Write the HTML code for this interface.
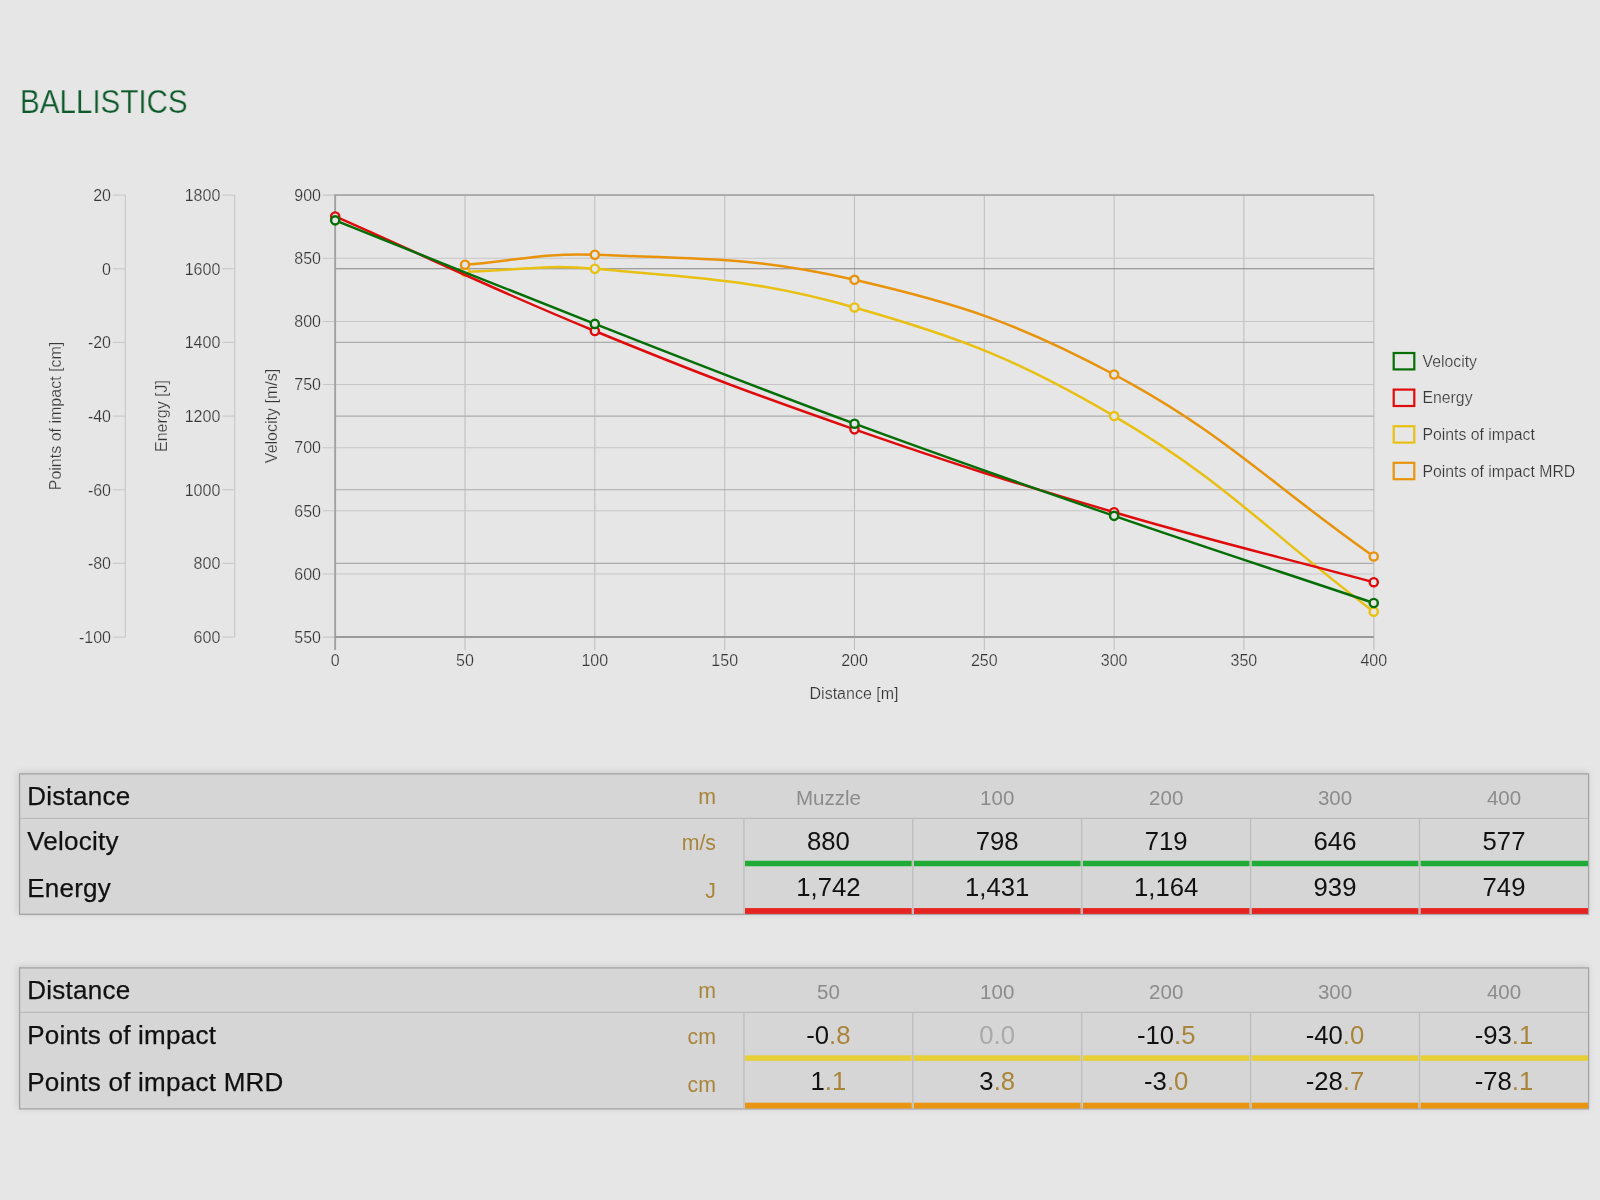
<!DOCTYPE html>
<html lang="en"><head><meta charset="utf-8"><title>Ballistics</title>
<style>
html,body{margin:0;padding:0}
body{width:1600px;height:1200px;background:#e6e6e6;position:relative;overflow:hidden;font-family:"Liberation Sans",Arial,sans-serif}
h1{position:absolute;left:19.5px;top:80.5px;will-change:transform;-webkit-text-stroke:.25px #e6e6e6;margin:0;font-weight:400;font-size:34px;line-height:40px;color:#0f5a2c;transform:scaleX(.87);transform-origin:0 0;white-space:nowrap}
svg.chart{position:absolute;left:0;top:0;will-change:transform}
svg.tbl{position:absolute;left:0;will-change:transform}

</style></head>
<body>
<svg width="0" height="0" style="position:absolute"><defs><filter id="sh" x="-2%" y="-15%" width="104%" height="130%"><feDropShadow dx="-1.2" dy="-1.2" stdDeviation="3" flood-color="#000" flood-opacity="0.12"/></filter></defs></svg>
<h1>BALLISTICS</h1>
<svg class="chart" width="1600" height="740" viewBox="0 0 1600 740" font-family="Liberation Sans, Arial, sans-serif" font-size="16" fill="#383838" stroke="#e6e6e6" stroke-width="0.2">
<line x1="335.2" y1="195.1" x2="335.2" y2="650.1" stroke="#bfbfbf" stroke-width="1.05"/>
<line x1="465.0" y1="195.1" x2="465.0" y2="650.1" stroke="#bfbfbf" stroke-width="1.05"/>
<line x1="594.8" y1="195.1" x2="594.8" y2="650.1" stroke="#bfbfbf" stroke-width="1.05"/>
<line x1="724.7" y1="195.1" x2="724.7" y2="650.1" stroke="#bfbfbf" stroke-width="1.05"/>
<line x1="854.5" y1="195.1" x2="854.5" y2="650.1" stroke="#bfbfbf" stroke-width="1.05"/>
<line x1="984.3" y1="195.1" x2="984.3" y2="650.1" stroke="#bfbfbf" stroke-width="1.05"/>
<line x1="1114.1" y1="195.1" x2="1114.1" y2="650.1" stroke="#bfbfbf" stroke-width="1.05"/>
<line x1="1243.9" y1="195.1" x2="1243.9" y2="650.1" stroke="#bfbfbf" stroke-width="1.05"/>
<line x1="1373.8" y1="195.1" x2="1373.8" y2="650.1" stroke="#cacaca" stroke-width="1.7"/>
<line x1="322.7" y1="637.1" x2="1373.8" y2="637.1" stroke="#c6c6c6" stroke-width="1.05"/>
<line x1="322.7" y1="574.0" x2="1373.8" y2="574.0" stroke="#c6c6c6" stroke-width="1.05"/>
<line x1="322.7" y1="510.8" x2="1373.8" y2="510.8" stroke="#c6c6c6" stroke-width="1.05"/>
<line x1="322.7" y1="447.7" x2="1373.8" y2="447.7" stroke="#c6c6c6" stroke-width="1.05"/>
<line x1="322.7" y1="384.5" x2="1373.8" y2="384.5" stroke="#c6c6c6" stroke-width="1.05"/>
<line x1="322.7" y1="321.4" x2="1373.8" y2="321.4" stroke="#c6c6c6" stroke-width="1.05"/>
<line x1="322.7" y1="258.2" x2="1373.8" y2="258.2" stroke="#c6c6c6" stroke-width="1.05"/>
<line x1="322.7" y1="195.1" x2="1373.8" y2="195.1" stroke="#c6c6c6" stroke-width="1.05"/>
<line x1="335.2" y1="637.1" x2="1373.8" y2="637.1" stroke="#ababab" stroke-width="1.1"/>
<line x1="335.2" y1="563.4" x2="1373.8" y2="563.4" stroke="#ababab" stroke-width="1.1"/>
<line x1="335.2" y1="489.8" x2="1373.8" y2="489.8" stroke="#ababab" stroke-width="1.1"/>
<line x1="335.2" y1="416.1" x2="1373.8" y2="416.1" stroke="#ababab" stroke-width="1.1"/>
<line x1="335.2" y1="342.4" x2="1373.8" y2="342.4" stroke="#ababab" stroke-width="1.1"/>
<line x1="335.2" y1="268.8" x2="1373.8" y2="268.8" stroke="#858585" stroke-width="1.1"/>
<line x1="335.2" y1="195.1" x2="1373.8" y2="195.1" stroke="#ababab" stroke-width="1.1"/>
<line x1="335.2" y1="195.1" x2="1373.8" y2="195.1" stroke="#a8a8a8" stroke-width="1.5"/>
<line x1="335.2" y1="194.2" x2="335.2" y2="650.1" stroke="#a0a0a0" stroke-width="1.8"/>
<line x1="334.2" y1="637.1" x2="1373.8" y2="637.1" stroke="#9a9a9a" stroke-width="2"/>
<line x1="125.4" y1="195.1" x2="125.4" y2="637.1" stroke="#cacaca" stroke-width="1.2"/>
<line x1="112.8" y1="637.1" x2="125.4" y2="637.1" stroke="#cacaca" stroke-width="1.2"/>
<text x="111.0" y="642.8" text-anchor="end">-100</text>
<line x1="112.8" y1="563.4" x2="125.4" y2="563.4" stroke="#cacaca" stroke-width="1.2"/>
<text x="111.0" y="569.1" text-anchor="end">-80</text>
<line x1="112.8" y1="489.8" x2="125.4" y2="489.8" stroke="#cacaca" stroke-width="1.2"/>
<text x="111.0" y="495.5" text-anchor="end">-60</text>
<line x1="112.8" y1="416.1" x2="125.4" y2="416.1" stroke="#cacaca" stroke-width="1.2"/>
<text x="111.0" y="421.8" text-anchor="end">-40</text>
<line x1="112.8" y1="342.4" x2="125.4" y2="342.4" stroke="#cacaca" stroke-width="1.2"/>
<text x="111.0" y="348.1" text-anchor="end">-20</text>
<line x1="112.8" y1="268.8" x2="125.4" y2="268.8" stroke="#cacaca" stroke-width="1.2"/>
<text x="111.0" y="274.5" text-anchor="end">0</text>
<line x1="112.8" y1="195.1" x2="125.4" y2="195.1" stroke="#cacaca" stroke-width="1.2"/>
<text x="111.0" y="200.8" text-anchor="end">20</text>
<line x1="234.7" y1="195.1" x2="234.7" y2="637.1" stroke="#cacaca" stroke-width="1.2"/>
<line x1="222.1" y1="637.1" x2="234.7" y2="637.1" stroke="#cacaca" stroke-width="1.2"/>
<text x="220.3" y="642.8" text-anchor="end">600</text>
<line x1="222.1" y1="563.4" x2="234.7" y2="563.4" stroke="#cacaca" stroke-width="1.2"/>
<text x="220.3" y="569.1" text-anchor="end">800</text>
<line x1="222.1" y1="489.8" x2="234.7" y2="489.8" stroke="#cacaca" stroke-width="1.2"/>
<text x="220.3" y="495.5" text-anchor="end">1000</text>
<line x1="222.1" y1="416.1" x2="234.7" y2="416.1" stroke="#cacaca" stroke-width="1.2"/>
<text x="220.3" y="421.8" text-anchor="end">1200</text>
<line x1="222.1" y1="342.4" x2="234.7" y2="342.4" stroke="#cacaca" stroke-width="1.2"/>
<text x="220.3" y="348.1" text-anchor="end">1400</text>
<line x1="222.1" y1="268.8" x2="234.7" y2="268.8" stroke="#cacaca" stroke-width="1.2"/>
<text x="220.3" y="274.5" text-anchor="end">1600</text>
<line x1="222.1" y1="195.1" x2="234.7" y2="195.1" stroke="#cacaca" stroke-width="1.2"/>
<text x="220.3" y="200.8" text-anchor="end">1800</text>
<text x="321" y="642.8" text-anchor="end">550</text>
<text x="321" y="579.7" text-anchor="end">600</text>
<text x="321" y="516.5" text-anchor="end">650</text>
<text x="321" y="453.4" text-anchor="end">700</text>
<text x="321" y="390.2" text-anchor="end">750</text>
<text x="321" y="327.1" text-anchor="end">800</text>
<text x="321" y="263.9" text-anchor="end">850</text>
<text x="321" y="200.8" text-anchor="end">900</text>
<text x="335.2" y="666" text-anchor="middle">0</text>
<text x="465.0" y="666" text-anchor="middle">50</text>
<text x="594.8" y="666" text-anchor="middle">100</text>
<text x="724.7" y="666" text-anchor="middle">150</text>
<text x="854.5" y="666" text-anchor="middle">200</text>
<text x="984.3" y="666" text-anchor="middle">250</text>
<text x="1114.1" y="666" text-anchor="middle">300</text>
<text x="1243.9" y="666" text-anchor="middle">350</text>
<text x="1373.8" y="666" text-anchor="middle">400</text>
<text x="854" y="698.5" text-anchor="middle">Distance [m]</text>
<text transform="translate(60.8,416) rotate(-90)" text-anchor="middle">Points of impact [cm]</text>
<text transform="translate(167.3,416) rotate(-90)" text-anchor="middle">Energy [J]</text>
<text transform="translate(276.7,416) rotate(-90)" text-anchor="middle">Velocity [m/s]</text>
<path d="M465.02,271.71 C516.95,270.53 543.28,264.04 594.84,268.77 C699.06,278.33 754.24,279.00 854.47,307.44 C961.95,337.94 1017.72,359.63 1114.11,416.10 C1225.43,481.32 1269.89,533.45 1373.75,611.68" fill="none" stroke="#e8c014" stroke-width="2.5" stroke-linejoin="round"/>
<circle cx="465.02" cy="271.71" r="4.1" fill="#e6e6e6" stroke="#e8c014" stroke-width="2.4"/>
<circle cx="594.84" cy="268.77" r="4.1" fill="#e6e6e6" stroke="#e8c014" stroke-width="2.4"/>
<circle cx="854.47" cy="307.44" r="4.1" fill="#e6e6e6" stroke="#e8c014" stroke-width="2.4"/>
<circle cx="1114.11" cy="416.10" r="4.1" fill="#e6e6e6" stroke="#e8c014" stroke-width="2.4"/>
<circle cx="1373.75" cy="611.68" r="4.1" fill="#e6e6e6" stroke="#e8c014" stroke-width="2.4"/>
<path d="M335.20,216.46 C439.06,262.28 489.85,287.97 594.84,331.01 C697.56,373.13 749.66,392.78 854.47,429.36 C957.37,465.27 1009.56,481.46 1114.11,512.24 C1217.27,542.60 1269.89,554.23 1373.75,582.22" fill="none" stroke="#de0c0c" stroke-width="2.5" stroke-linejoin="round"/>
<circle cx="335.20" cy="216.46" r="4.1" fill="#e6e6e6" stroke="#de0c0c" stroke-width="2.4"/>
<circle cx="594.84" cy="331.01" r="4.1" fill="#e6e6e6" stroke="#de0c0c" stroke-width="2.4"/>
<circle cx="854.47" cy="429.36" r="4.1" fill="#e6e6e6" stroke="#de0c0c" stroke-width="2.4"/>
<circle cx="1114.11" cy="512.24" r="4.1" fill="#e6e6e6" stroke="#de0c0c" stroke-width="2.4"/>
<circle cx="1373.75" cy="582.22" r="4.1" fill="#e6e6e6" stroke="#de0c0c" stroke-width="2.4"/>
<path d="M335.20,220.36 C439.06,261.78 490.73,283.15 594.84,323.91 C698.44,364.47 750.13,385.10 854.47,423.68 C957.84,461.89 1009.95,479.89 1114.11,515.87 C1217.66,551.62 1269.89,568.15 1373.75,603.00" fill="none" stroke="#066e06" stroke-width="2.5" stroke-linejoin="round"/>
<circle cx="335.20" cy="220.36" r="4.1" fill="#e6e6e6" stroke="#066e06" stroke-width="2.4"/>
<circle cx="594.84" cy="323.91" r="4.1" fill="#e6e6e6" stroke="#066e06" stroke-width="2.4"/>
<circle cx="854.47" cy="423.68" r="4.1" fill="#e6e6e6" stroke="#066e06" stroke-width="2.4"/>
<circle cx="1114.11" cy="515.87" r="4.1" fill="#e6e6e6" stroke="#066e06" stroke-width="2.4"/>
<circle cx="1373.75" cy="603.00" r="4.1" fill="#e6e6e6" stroke="#066e06" stroke-width="2.4"/>
<path d="M465.02,264.71 C516.95,260.74 542.97,252.76 594.84,254.77 C698.75,258.80 753.62,256.57 854.47,279.82 C961.33,304.45 1017.38,322.95 1114.11,374.48 C1225.09,433.60 1269.89,483.65 1373.75,556.43" fill="none" stroke="#e8930c" stroke-width="2.5" stroke-linejoin="round"/>
<circle cx="465.02" cy="264.71" r="4.1" fill="#e6e6e6" stroke="#e8930c" stroke-width="2.4"/>
<circle cx="594.84" cy="254.77" r="4.1" fill="#e6e6e6" stroke="#e8930c" stroke-width="2.4"/>
<circle cx="854.47" cy="279.82" r="4.1" fill="#e6e6e6" stroke="#e8930c" stroke-width="2.4"/>
<circle cx="1114.11" cy="374.48" r="4.1" fill="#e6e6e6" stroke="#e8930c" stroke-width="2.4"/>
<circle cx="1373.75" cy="556.43" r="4.1" fill="#e6e6e6" stroke="#e8930c" stroke-width="2.4"/>
<rect x="1393.7" y="353.0" width="20.6" height="16.4" fill="none" stroke="#066e06" stroke-width="2.2"/>
<text x="1422.5" y="366.6" font-size="15.8">Velocity</text>
<rect x="1393.7" y="389.6" width="20.6" height="16.4" fill="none" stroke="#de0c0c" stroke-width="2.2"/>
<text x="1422.5" y="403.3" font-size="15.8">Energy</text>
<rect x="1393.7" y="426.2" width="20.6" height="16.4" fill="none" stroke="#e8c014" stroke-width="2.2"/>
<text x="1422.5" y="440.0" font-size="15.8">Points of impact</text>
<rect x="1393.7" y="462.8" width="20.6" height="16.4" fill="none" stroke="#e8930c" stroke-width="2.2"/>
<text x="1422.5" y="476.7" font-size="15.8">Points of impact MRD</text>
</svg>
<svg class="tbl" style="top:765px" width="1600" height="160" viewBox="0 -8 1600 160" font-family="Liberation Sans, Arial, sans-serif">
<rect x="19.55" y="0.90" width="1569.05" height="140.40" fill="#d6d6d6" stroke="#a2a2a2" stroke-width="1.3" filter="url(#sh)"/>
<line x1="20.15" y1="45.40" x2="1588.00" y2="45.40" stroke="#bcbcbc" stroke-width="1.3"/>
<line x1="743.90" y1="45.40" x2="743.90" y2="141.10" stroke="#bcbcbc" stroke-width="1.3"/>
<line x1="912.80" y1="45.40" x2="912.80" y2="141.10" stroke="#bcbcbc" stroke-width="1.3"/>
<line x1="1081.70" y1="45.40" x2="1081.70" y2="141.10" stroke="#bcbcbc" stroke-width="1.3"/>
<line x1="1250.60" y1="45.40" x2="1250.60" y2="141.10" stroke="#bcbcbc" stroke-width="1.3"/>
<line x1="1419.50" y1="45.40" x2="1419.50" y2="141.10" stroke="#bcbcbc" stroke-width="1.3"/>
<rect x="745.00" y="87.75" width="166.70" height="5.50" fill="#1fab35"/>
<rect x="913.90" y="87.75" width="166.70" height="5.50" fill="#1fab35"/>
<rect x="1082.80" y="87.75" width="166.70" height="5.50" fill="#1fab35"/>
<rect x="1251.70" y="87.75" width="166.70" height="5.50" fill="#1fab35"/>
<rect x="1420.60" y="87.75" width="167.40" height="5.50" fill="#1fab35"/>
<rect x="745.00" y="135.10" width="166.70" height="5.80" fill="#e52320"/>
<rect x="913.90" y="135.10" width="166.70" height="5.80" fill="#e52320"/>
<rect x="1082.80" y="135.10" width="166.70" height="5.80" fill="#e52320"/>
<rect x="1251.70" y="135.10" width="166.70" height="5.80" fill="#e52320"/>
<rect x="1420.60" y="135.10" width="167.40" height="5.80" fill="#e52320"/>
<text x="27.2" y="32.0" font-size="26" fill="#111" stroke="#111" stroke-width=".25" letter-spacing=".25">Distance</text>
<text x="716" y="30.5" font-size="21.3" fill="#a8853a" text-anchor="end">m</text>
<text x="828.4" y="32.4" font-size="20.5" fill="#8c8c8c" text-anchor="middle">Muzzle</text>
<text x="997.2" y="32.4" font-size="20.5" fill="#8c8c8c" text-anchor="middle">100</text>
<text x="1166.2" y="32.4" font-size="20.5" fill="#8c8c8c" text-anchor="middle">200</text>
<text x="1335.0" y="32.4" font-size="20.5" fill="#8c8c8c" text-anchor="middle">300</text>
<text x="1504.0" y="32.4" font-size="20.5" fill="#8c8c8c" text-anchor="middle">400</text>
<text x="27.2" y="76.8" font-size="26" fill="#111" stroke="#111" stroke-width=".25" letter-spacing=".25">Velocity</text>
<text x="716" y="77.0" font-size="21.3" fill="#a8853a" text-anchor="end">m/s</text>
<text x="828.4" y="76.6" font-size="25.7" fill="#111" text-anchor="middle">880</text>
<text x="997.2" y="76.6" font-size="25.7" fill="#111" text-anchor="middle">798</text>
<text x="1166.2" y="76.6" font-size="25.7" fill="#111" text-anchor="middle">719</text>
<text x="1335.0" y="76.6" font-size="25.7" fill="#111" text-anchor="middle">646</text>
<text x="1504.0" y="76.6" font-size="25.7" fill="#111" text-anchor="middle">577</text>
<text x="27.2" y="123.6" font-size="26" fill="#111" stroke="#111" stroke-width=".25" letter-spacing=".25">Energy</text>
<text x="716" y="124.7" font-size="21.3" fill="#a8853a" text-anchor="end">J</text>
<text x="828.4" y="123.4" font-size="25.7" fill="#111" text-anchor="middle">1,742</text>
<text x="997.2" y="123.4" font-size="25.7" fill="#111" text-anchor="middle">1,431</text>
<text x="1166.2" y="123.4" font-size="25.7" fill="#111" text-anchor="middle">1,164</text>
<text x="1335.0" y="123.4" font-size="25.7" fill="#111" text-anchor="middle">939</text>
<text x="1504.0" y="123.4" font-size="25.7" fill="#111" text-anchor="middle">749</text>
</svg>
<svg class="tbl" style="top:959px" width="1600" height="160" viewBox="0 -8 1600 160" font-family="Liberation Sans, Arial, sans-serif">
<rect x="19.55" y="0.90" width="1569.05" height="141.00" fill="#d6d6d6" stroke="#a2a2a2" stroke-width="1.3" filter="url(#sh)"/>
<line x1="20.15" y1="45.40" x2="1588.00" y2="45.40" stroke="#bcbcbc" stroke-width="1.3"/>
<line x1="743.90" y1="45.40" x2="743.90" y2="141.70" stroke="#bcbcbc" stroke-width="1.3"/>
<line x1="912.80" y1="45.40" x2="912.80" y2="141.70" stroke="#bcbcbc" stroke-width="1.3"/>
<line x1="1081.70" y1="45.40" x2="1081.70" y2="141.70" stroke="#bcbcbc" stroke-width="1.3"/>
<line x1="1250.60" y1="45.40" x2="1250.60" y2="141.70" stroke="#bcbcbc" stroke-width="1.3"/>
<line x1="1419.50" y1="45.40" x2="1419.50" y2="141.70" stroke="#bcbcbc" stroke-width="1.3"/>
<rect x="745.00" y="88.35" width="166.70" height="5.50" fill="#e8cf38"/>
<rect x="913.90" y="88.35" width="166.70" height="5.50" fill="#e8cf38"/>
<rect x="1082.80" y="88.35" width="166.70" height="5.50" fill="#e8cf38"/>
<rect x="1251.70" y="88.35" width="166.70" height="5.50" fill="#e8cf38"/>
<rect x="1420.60" y="88.35" width="167.40" height="5.50" fill="#e8cf38"/>
<rect x="745.00" y="135.70" width="166.70" height="5.80" fill="#ea9512"/>
<rect x="913.90" y="135.70" width="166.70" height="5.80" fill="#ea9512"/>
<rect x="1082.80" y="135.70" width="166.70" height="5.80" fill="#ea9512"/>
<rect x="1251.70" y="135.70" width="166.70" height="5.80" fill="#ea9512"/>
<rect x="1420.60" y="135.70" width="167.40" height="5.80" fill="#ea9512"/>
<text x="27.2" y="32.0" font-size="26" fill="#111" stroke="#111" stroke-width=".25" letter-spacing=".25">Distance</text>
<text x="716" y="30.5" font-size="21.3" fill="#a8853a" text-anchor="end">m</text>
<text x="828.4" y="32.4" font-size="20.5" fill="#8c8c8c" text-anchor="middle">50</text>
<text x="997.2" y="32.4" font-size="20.5" fill="#8c8c8c" text-anchor="middle">100</text>
<text x="1166.2" y="32.4" font-size="20.5" fill="#8c8c8c" text-anchor="middle">200</text>
<text x="1335.0" y="32.4" font-size="20.5" fill="#8c8c8c" text-anchor="middle">300</text>
<text x="1504.0" y="32.4" font-size="20.5" fill="#8c8c8c" text-anchor="middle">400</text>
<text x="27.2" y="76.8" font-size="26" fill="#111" stroke="#111" stroke-width=".25" letter-spacing=".25">Points of impact</text>
<text x="716" y="77.0" font-size="21.3" fill="#a8853a" text-anchor="end">cm</text>
<text x="828.4" y="76.6" font-size="25.7" fill="#111" text-anchor="middle">-0<tspan fill="#a8853a">.8</tspan></text>
<text x="997.2" y="76.6" font-size="25.7" fill="#111" text-anchor="middle"><tspan fill="#aaa">0.0</tspan></text>
<text x="1166.2" y="76.6" font-size="25.7" fill="#111" text-anchor="middle">-10<tspan fill="#a8853a">.5</tspan></text>
<text x="1335.0" y="76.6" font-size="25.7" fill="#111" text-anchor="middle">-40<tspan fill="#a8853a">.0</tspan></text>
<text x="1504.0" y="76.6" font-size="25.7" fill="#111" text-anchor="middle">-93<tspan fill="#a8853a">.1</tspan></text>
<text x="27.2" y="123.6" font-size="26" fill="#111" stroke="#111" stroke-width=".25" letter-spacing=".25">Points of impact MRD</text>
<text x="716" y="124.7" font-size="21.3" fill="#a8853a" text-anchor="end">cm</text>
<text x="828.4" y="123.4" font-size="25.7" fill="#111" text-anchor="middle">1<tspan fill="#a8853a">.1</tspan></text>
<text x="997.2" y="123.4" font-size="25.7" fill="#111" text-anchor="middle">3<tspan fill="#a8853a">.8</tspan></text>
<text x="1166.2" y="123.4" font-size="25.7" fill="#111" text-anchor="middle">-3<tspan fill="#a8853a">.0</tspan></text>
<text x="1335.0" y="123.4" font-size="25.7" fill="#111" text-anchor="middle">-28<tspan fill="#a8853a">.7</tspan></text>
<text x="1504.0" y="123.4" font-size="25.7" fill="#111" text-anchor="middle">-78<tspan fill="#a8853a">.1</tspan></text>
</svg>
</body></html>
